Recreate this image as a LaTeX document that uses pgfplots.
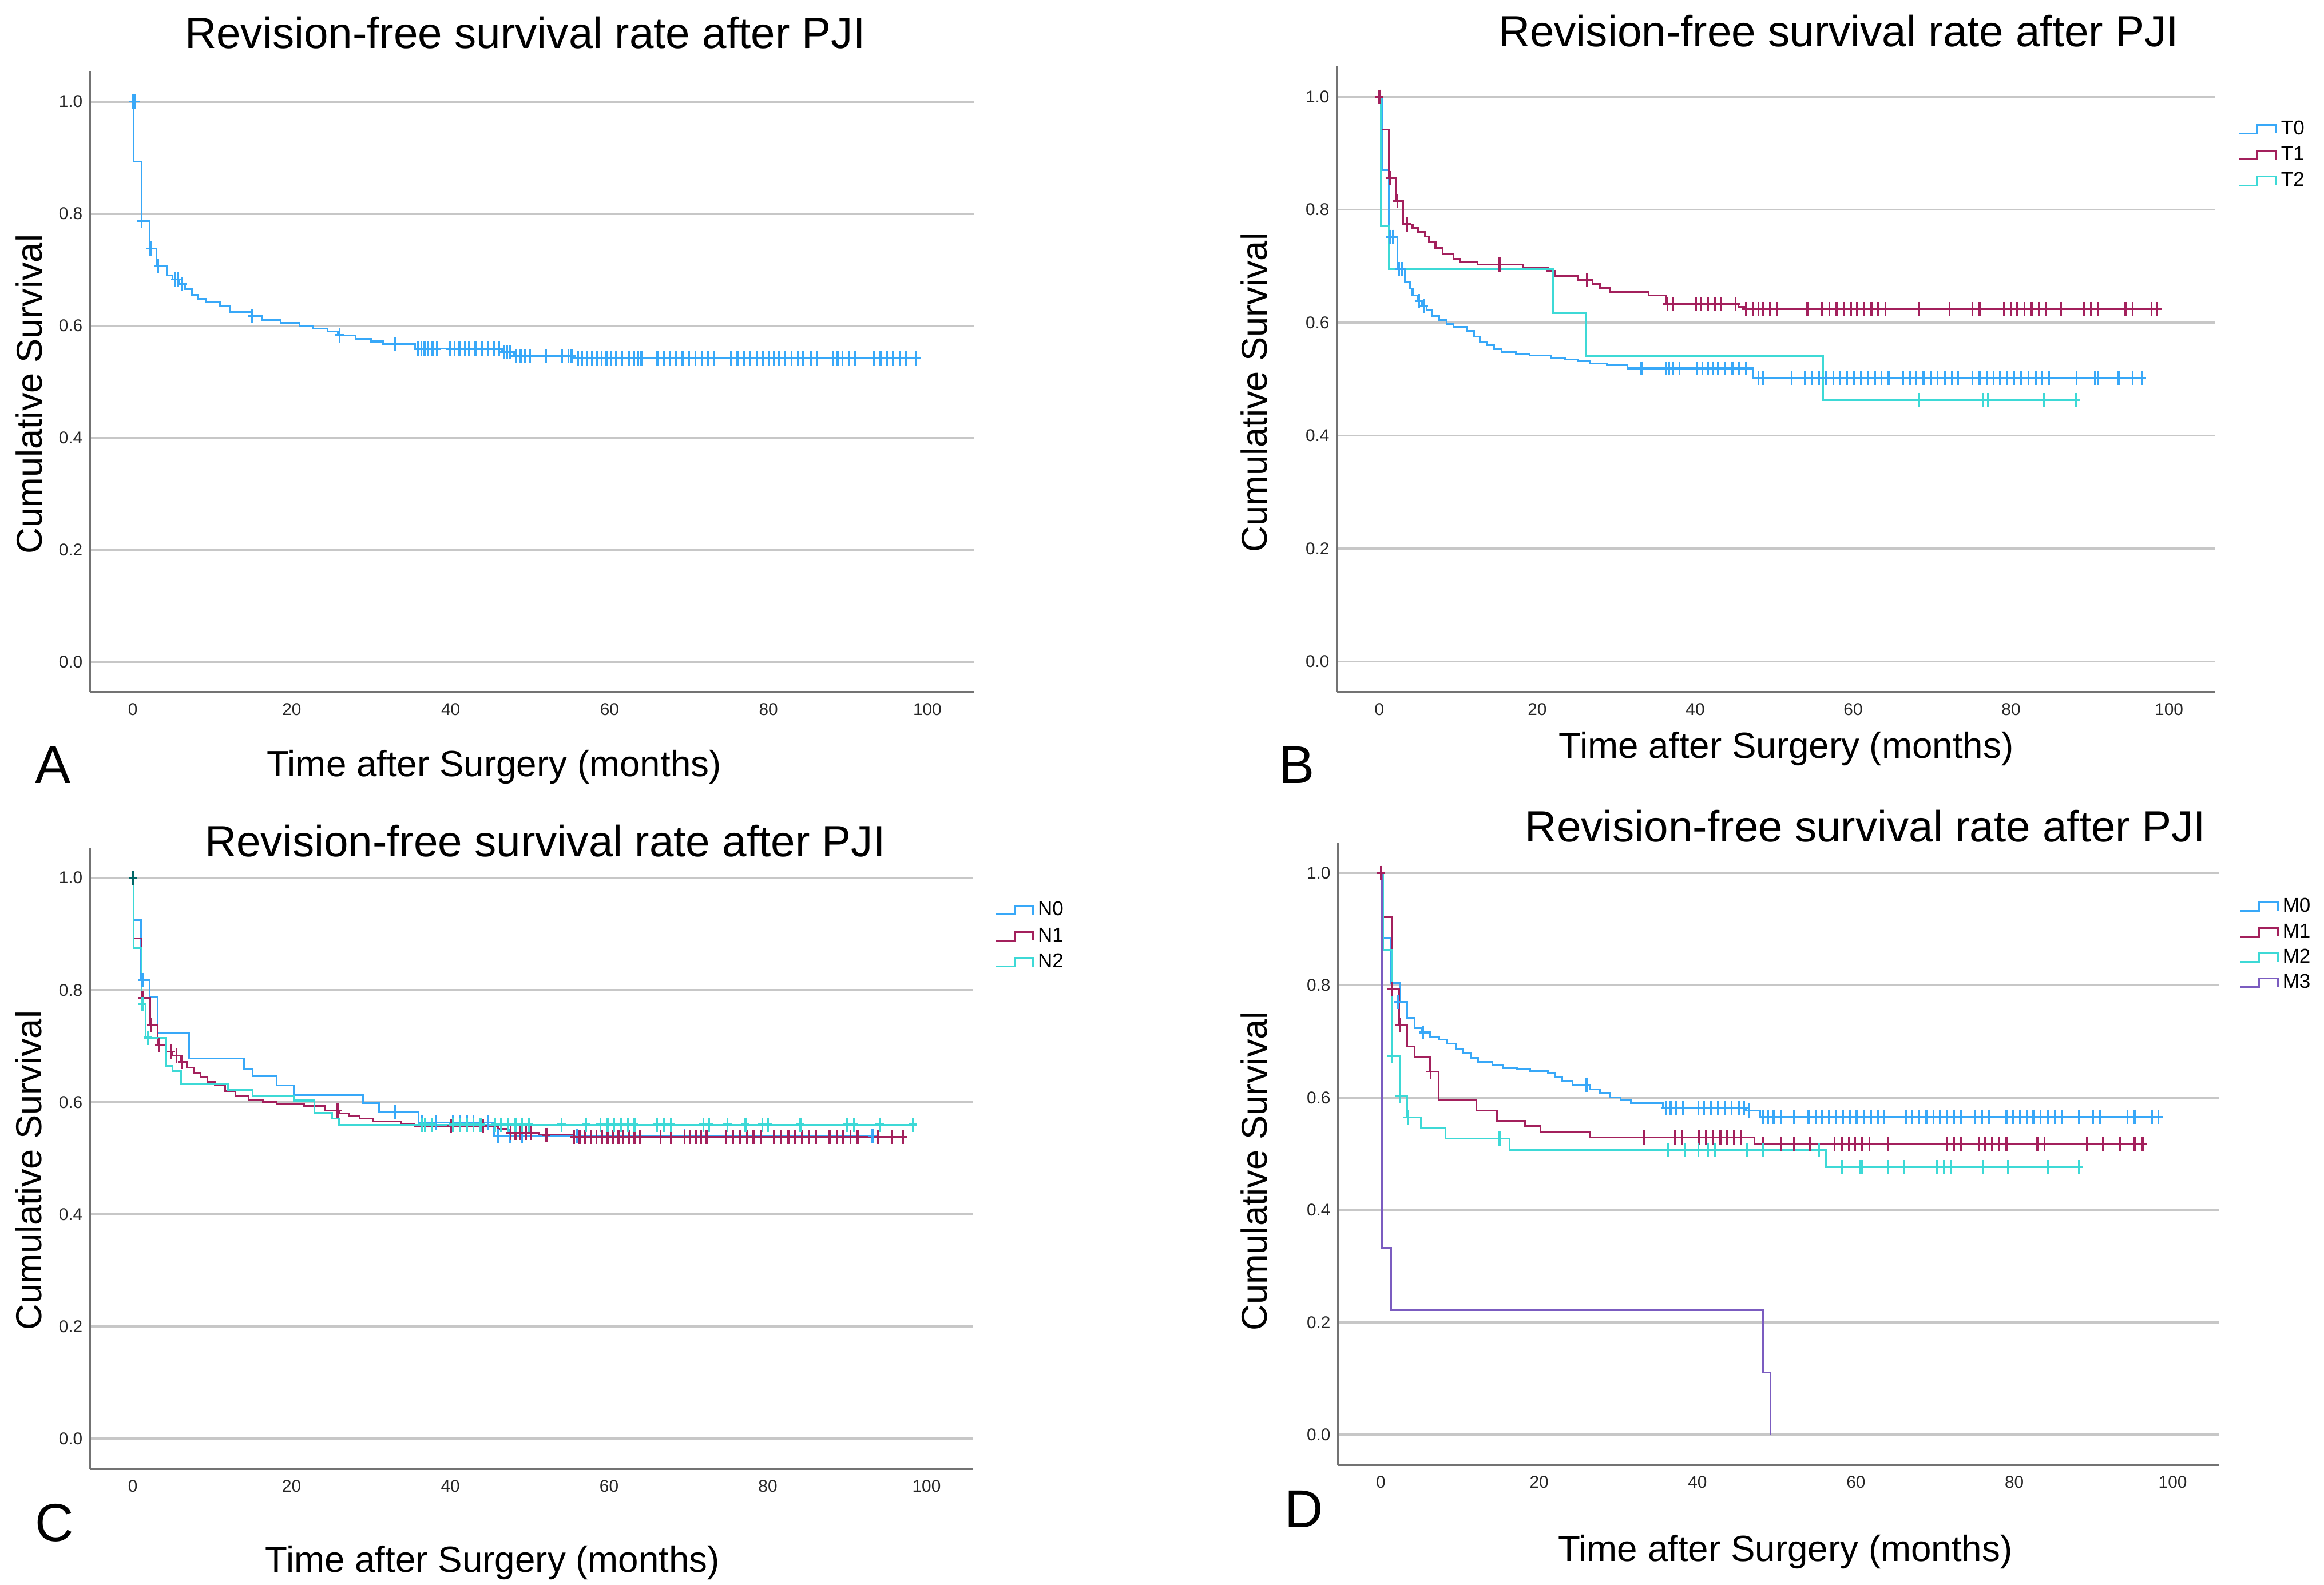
\documentclass[border=0pt]{standalone}
\usepackage{fontspec}
\setmainfont{Liberation Sans}
\usepackage{pgfplots}
\pgfplotsset{compat=1.18}
\definecolor{cA}{HTML}{38A8F8}
\definecolor{cB}{HTML}{A3205C}
\definecolor{cC}{HTML}{3DD9D6}
\definecolor{cD}{HTML}{7B5CC0}
\pgfplotsset{
 km/.style={
  scale only axis,
  xmin=-5.4, xmax=105.8, ymin=-0.054, ymax=1.054,
  axis x line*=bottom, axis y line*=left,
  axis line style={-, draw=black!55, line width=1.5pt},
  xtick={0,20,40,60,80,100}, xticklabels={0,20,40,60,80,100},
  ytick={0,0.2,0.4,0.6,0.8,1.0}, yticklabels={0.0,0.2,0.4,0.6,0.8,1.0},
  major tick length=0pt,
  /pgf/number format/assume math mode=true,
  tick label style={font=\fontsize{11.5}{13}\selectfont, text=black!85},
  xticklabel style={yshift=-4pt},
  yticklabel style={xshift=-1.5pt},
  ymajorgrids, grid style={draw=black!22, line width=1.5pt},
  legend cell align=left,
  legend image code/.code={\draw[##1, line width=1.1pt] (0pt,-2.9pt) -- (12.5pt,-2.9pt) -- (12.5pt,2.9pt) -- (25pt,2.9pt) -- (25pt,-2.9pt);},
 },
 kmleg/.style n args={3}{legend style={draw=none, fill=none, at={(axis description cs:1,1)}, anchor=north west, xshift=#1, yshift=#2,
   font=\fontsize{13.5}{13.5}\selectfont, inner sep=0pt, row sep=#3, column sep=2.8pt,
   nodes={inner sep=0pt, text height=9.7pt, text depth=2.5pt}}},
 kmline/.style={const plot, color=#1, line width=1.2pt},
 kmcens/.style={only marks, mark=+, mark size=2.8pt, color=#1, mark options={line width=1.35pt, yscale=1.7}, forget plot},
}
\begin{document}
\begin{tikzpicture}
\path[use as bounding box] (0pt,0pt) rectangle (1568pt,1069.6pt);
% ---------------- Panel A ----------------
\begin{axis}[km, at={(60.7pt,602.4pt)}, anchor=south west, width=596.1pt, height=419pt]
\addplot[kmline=cA] coordinates {(0,1)(0.1,0.893)(1.1,0.787)(2.1,0.738)(3.0,0.707)(4.3,0.690)(5.0,0.683)(5.8,0.675)(6.6,0.665)(7.4,0.655)(8.2,0.648)(9.2,0.642)(11,0.635)(12.2,0.625)(15,0.617)(16.2,0.610)(18.6,0.605)(21,0.600)(22.6,0.595)(24.5,0.590)(25.8,0.583)(28,0.577)(30,0.572)(31.5,0.567)(35.5,0.559)(46.5,0.553)(48,0.546)(55.5,0.542)(98.6,0.542)};
\addplot[kmcens=cA] coordinates {(0,1)(0.3,1)(1.1,0.787)(2.2,0.738)(3.2,0.707)(5.3,0.683)(5.7,0.683)(6.2,0.675)(15,0.617)(26,0.583)(33,0.567)
(35.9,0.559)(36.3,0.559)(36.7,0.559)(37.1,0.559)(37.7,0.559)(38.3,0.559)(39.9,0.559)(40.5,0.559)(41.1,0.559)(41.8,0.559)(42.3,0.559)(43.1,0.559)(43.9,0.559)(44.7,0.559)(45.5,0.559)(46.1,0.559)
(46.7,0.553)(47.1,0.553)(47.5,0.553)
(48.2,0.546)(48.8,0.546)(49.3,0.546)(50,0.546)(52,0.546)(54,0.546)(54.8,0.546)(55.2,0.546)
(56.0,0.542)(56.5,0.542)(57.2,0.542)(57.8,0.542)(58.4,0.542)(59.0,0.542)(59.6,0.542)(60.2,0.542)(60.8,0.542)(61.6,0.542)(62.4,0.542)(63.1,0.542)(63.6,0.542)(64.0,0.542)
(66.0,0.542)(66.8,0.542)(67.6,0.542)(68.4,0.542)(69.2,0.542)(70.0,0.542)(70.8,0.542)(71.6,0.542)(72.4,0.542)(73.1,0.542)
(75.3,0.542)(76.1,0.542)(76.9,0.542)(77.7,0.542)(78.5,0.542)(79.3,0.542)(80.1,0.542)(80.7,0.542)(81.3,0.542)(82.1,0.542)(82.9,0.542)(83.7,0.542)(84.3,0.542)(85.3,0.542)(86.1,0.542)
(88.1,0.542)(88.7,0.542)(89.3,0.542)(90.1,0.542)(90.9,0.542)
(93.3,0.542)(94.1,0.542)(94.9,0.542)(95.7,0.542)(96.5,0.542)(97.3,0.542)(98.6,0.542)};
\end{axis}
% ---------------- Panel B ----------------
\begin{axis}[km, kmleg={15.6pt}{-36.2pt}{5.3pt}, at={(901.9pt,602.6pt)}, anchor=south west, width=592.4pt, height=422.3pt]
\addplot[kmline=cA] coordinates {(0,1)(0.3,0.87)(1.2,0.752)(2.3,0.695)(3.2,0.672)(3.9,0.66)(4.2,0.648)(4.8,0.638)(5.4,0.630)(6,0.622)(6.7,0.612)(7.6,0.605)(8.5,0.598)(9.4,0.592)(11.1,0.585)(12,0.575)(12.7,0.565)(13.6,0.56)(14.5,0.553)(15.5,0.548)(17.3,0.545)(19,0.542)(21.7,0.538)(23.5,0.535)(25.2,0.532)(26.6,0.528)(28.8,0.525)(31.4,0.519)(47.3,0.502)(96.7,0.502)};
\addlegendentry{T0}
\addplot[kmline=cB] coordinates {(0,1)(0.2,0.942)(1.2,0.856)(2.1,0.815)(3.0,0.774)(4.2,0.768)(4.9,0.760)(5.8,0.752)(6.3,0.743)(7.1,0.732)(8,0.722)(9.4,0.713)(10.2,0.708)(12.4,0.703)(18.2,0.697)(21.3,0.692)(22.2,0.683)(25.2,0.676)(27,0.668)(27.9,0.661)(29.2,0.654)(34.1,0.648)(36.3,0.633)(45.5,0.628)(46.3,0.624)(98.5,0.624)};
\addlegendentry{T1}
\addplot[kmline=cC] coordinates {(0,1)(0.2,0.772)(1.2,0.695)(22,0.617)(26.2,0.541)(56.2,0.463)(88.6,0.463)};
\addlegendentry{T2}
\addplot[kmcens=cA] coordinates {(1.3,0.752)(1.7,0.752)(2.5,0.695)(2.9,0.695)(5.0,0.638)(5.6,0.630)
(33.2,0.519)(36.3,0.519)(36.7,0.519)(37.2,0.519)(38.0,0.519)(40.2,0.519)(40.9,0.519)(41.6,0.519)(42.2,0.519)(42.9,0.519)(43.8,0.519)(44.7,0.519)(45.5,0.519)(46.4,0.519)
(48.0,0.502)(48.6,0.502)(52.2,0.502)(53.9,0.502)(54.8,0.502)(55.7,0.502)(56.6,0.502)(57.5,0.502)(58.3,0.502)(59.2,0.502)(60.1,0.502)(61.0,0.502)(61.9,0.502)(62.8,0.502)(63.6,0.502)(64.5,0.502)
(66.3,0.502)(67.2,0.502)(68.0,0.502)(68.9,0.502)(69.8,0.502)(70.7,0.502)(71.6,0.502)(72.5,0.502)(73.3,0.502)
(75.1,0.502)(76.0,0.502)(76.9,0.502)(77.8,0.502)(78.6,0.502)(79.5,0.502)(80.4,0.502)(81.3,0.502)(82.2,0.502)(83.1,0.502)(83.9,0.502)(84.8,0.502)
(88.3,0.502)(90.6,0.502)(91.0,0.502)(93.6,0.502)(95.4,0.502)(96.6,0.502)};
\addplot[kmcens=cB] coordinates {(0,1)(1.3,0.856)(2.3,0.815)(3.5,0.774)(15.2,0.703)(26.3,0.676)
(36.5,0.633)(37.2,0.633)(40.1,0.633)(40.7,0.633)(41.6,0.633)(42.5,0.633)(43.3,0.633)(45.1,0.633)
(46.4,0.624)(47.3,0.624)(48.0,0.624)(48.6,0.624)(49.5,0.624)(50.4,0.624)(54.2,0.624)(56.1,0.624)(57.0,0.624)(57.9,0.624)(58.8,0.624)(59.7,0.624)(60.5,0.624)(61.4,0.624)(62.3,0.624)(63.2,0.624)(64.1,0.624)
(68.3,0.624)(72.2,0.624)(75.1,0.624)(76.0,0.624)(79.1,0.624)(80.0,0.624)(80.8,0.624)(81.7,0.624)(82.6,0.624)(83.5,0.624)(84.4,0.624)(86.3,0.624)
(89.2,0.624)(90.1,0.624)(91.0,0.624)(94.5,0.624)(95.4,0.624)(97.8,0.624)(98.5,0.624)};
\addplot[kmcens=cC] coordinates {(68.3,0.463)(76.4,0.463)(77.1,0.463)(84.2,0.463)(88.2,0.463)};
\end{axis}
% ---------------- Panel C ----------------
\begin{axis}[km, kmleg={15pt}{-35.9pt}{5.4pt}, at={(60.7pt,78.2pt)}, anchor=south west, width=595.5pt, height=419.4pt]
\addplot[kmline=cA] coordinates {(0,1)(0.1,0.925)(1,0.818)(2.1,0.787)(3.1,0.723)(7.1,0.678)(14,0.66)(15.1,0.646)(18.1,0.630)(20.3,0.613)(29,0.598)(31,0.583)(36,0.564)(45.5,0.540)(94,0.540)};
\addlegendentry{N0}
\addplot[kmline=cB] coordinates {(0,1)(0.1,0.892)(1.1,0.786)(2.2,0.737)(3.1,0.702)(4.2,0.690)(5,0.683)(6.1,0.672)(6.8,0.662)(7.7,0.652)(8.5,0.645)(9.4,0.636)(10.3,0.630)(11.6,0.620)(12.9,0.612)(14.6,0.605)(16.4,0.600)(18.1,0.597)(21.6,0.593)(24.2,0.585)(26,0.580)(27.3,0.575)(28.6,0.571)(30.3,0.566)(33.8,0.561)(35.5,0.558)(46,0.552)(47.3,0.545)(51.2,0.542)(55.6,0.538)(97,0.538)};
\addlegendentry{N1}
\addplot[kmline=cC] coordinates {(0,1)(0.1,0.875)(1.1,0.775)(1.6,0.715)(4.2,0.665)(5,0.655)(6.1,0.633)(12,0.622)(15.1,0.612)(20.3,0.603)(22.9,0.581)(25.1,0.571)(26,0.560)(98.3,0.560)};
\addlegendentry{N2}
\addplot[kmcens=cA] coordinates {(1.2,0.818)(33,0.583)(36.4,0.564)(38.2,0.564)(40.3,0.564)(41.2,0.564)(42.1,0.564)(42.9,0.564)(44.7,0.564)(46.0,0.540)(47.5,0.540)(49.0,0.540)(56,0.540)(69.5,0.540)(93.2,0.540)};
\addplot[kmcens=cB] coordinates {(1.2,0.786)(2.3,0.737)(3.3,0.702)(4.8,0.690)(5.5,0.683)(6.2,0.672)(25.8,0.585)(40.1,0.558)(44.1,0.558)
(47.6,0.545)(48.2,0.545)(48.8,0.545)(49.5,0.545)(50.2,0.545)(52.1,0.542)
(55.6,0.538)(56.3,0.538)(57.0,0.538)(57.7,0.538)(58.4,0.538)(59.1,0.538)(59.8,0.538)(60.5,0.538)(61.2,0.538)(61.8,0.538)(62.5,0.538)(63.2,0.538)(63.9,0.538)
(66.5,0.538)(67.8,0.538)(69.5,0.538)(70.2,0.538)(70.9,0.538)(71.6,0.538)(72.3,0.538)
(74.7,0.538)(75.6,0.538)(76.5,0.538)(77.4,0.538)(78.2,0.538)(79.1,0.538)
(80.8,0.538)(81.7,0.538)(82.6,0.538)(83.4,0.538)(84.3,0.538)(85.2,0.538)(86.1,0.538)
(87.8,0.538)(88.7,0.538)(89.5,0.538)(90.4,0.538)(91.3,0.538)(93.9,0.538)(95.6,0.538)(97.0,0.538)};
\addplot[kmcens=cC] coordinates {(1.2,0.775)(1.9,0.715)
(36.4,0.560)(36.8,0.560)(37.7,0.560)(40.3,0.560)(41.2,0.560)(42.1,0.560)(42.9,0.560)(43.8,0.560)(45.6,0.560)(46.4,0.560)(47.3,0.560)(48.2,0.560)(49.0,0.560)(49.9,0.560)
(54.0,0.560)(57.1,0.560)(58.9,0.560)(59.8,0.560)(60.6,0.560)(61.5,0.560)(62.4,0.560)(63.2,0.560)(66.0,0.560)(66.9,0.560)(67.8,0.560)
(71.9,0.560)(72.6,0.560)(74.9,0.560)(77.2,0.560)(79.3,0.560)(80.0,0.560)(84.1,0.560)(90.0,0.560)(90.9,0.560)(94.1,0.560)(98.3,0.560)};
\addplot[only marks, mark=+, mark size=2.8pt, color=teal!80!black, mark options={line width=1.35pt, yscale=1.7}, forget plot] coordinates {(0,1)};
\end{axis}
% ---------------- Panel D ----------------
\begin{axis}[km, kmleg={14.1pt}{-37.1pt}{4.9pt}, at={(902.7pt,80.9pt)}, anchor=south west, width=594.2pt, height=420.1pt]
\addplot[kmline=cA] coordinates {(0,1)(0.33,0.884)(1.3,0.804)(2.37,0.770)(3.37,0.742)(4.3,0.724)(5.13,0.716)(6.2,0.708)(7.4,0.703)(8.4,0.696)(9.5,0.686)(10.4,0.68)(11.4,0.671)(12.3,0.663)(14.1,0.657)(15.4,0.652)(17.2,0.650)(18.9,0.647)(21.1,0.643)(22,0.637)(22.9,0.630)(24.2,0.623)(26.4,0.615)(27.7,0.608)(29,0.600)(30.3,0.595)(31.6,0.590)(35.6,0.582)(46.1,0.577)(47.9,0.566)(98.5,0.566)};
\addlegendentry{M0}
\addplot[kmline=cB] coordinates {(0,1)(0.33,0.921)(1.36,0.794)(2.32,0.729)(3.33,0.691)(4.3,0.673)(6.2,0.646)(7.3,0.596)(12.1,0.577)(14.7,0.559)(18.2,0.549)(20.2,0.539)(26.4,0.529)(47.2,0.517)(96.5,0.517)};
\addlegendentry{M1}
\addplot[kmline=cC] coordinates {(0,1)(0.33,0.863)(1.36,0.674)(2.37,0.603)(3.3,0.565)(5.1,0.546)(8.2,0.527)(16.3,0.507)(56.2,0.476)(88.2,0.476)};
\addlegendentry{M2}
\addplot[kmline=cD] coordinates {(0,1)(0.2,0.333)(1.3,0.222)(48.3,0.111)(49.2,0)};
\addlegendentry{M3}
\addplot[kmcens=cA] coordinates {(2.2,0.770)(5.37,0.716)(26.0,0.623)
(36.0,0.582)(36.6,0.582)(37.3,0.582)(38.2,0.582)(40.1,0.582)(40.8,0.582)(41.7,0.582)(42.6,0.582)(43.5,0.582)(44.3,0.582)(45.2,0.582)(45.9,0.582)(46.5,0.577)
(48.3,0.566)(48.9,0.566)(49.6,0.566)(50.5,0.566)(52.2,0.566)(54.0,0.566)(54.9,0.566)(55.7,0.566)(56.6,0.566)(57.5,0.566)(58.4,0.566)(59.2,0.566)(60.1,0.566)(61.0,0.566)(61.9,0.566)(62.8,0.566)(63.6,0.566)
(66.3,0.566)(67.1,0.566)(68.0,0.566)(68.9,0.566)(69.8,0.566)(70.6,0.566)(71.5,0.566)(72.4,0.566)(73.3,0.566)
(75.0,0.566)(75.9,0.566)(76.8,0.566)(79.0,0.566)(79.8,0.566)(80.7,0.566)(81.6,0.566)(82.4,0.566)(83.3,0.566)(84.2,0.566)(85.1,0.566)(86.0,0.566)
(88.2,0.566)(89.9,0.566)(90.8,0.566)(94.3,0.566)(95.2,0.566)(97.4,0.566)(98.2,0.566)};
\addplot[kmcens=cB] coordinates {(0,1)(1.4,0.794)(2.4,0.729)(6.3,0.646)
(33.2,0.529)(37.2,0.529)(38.0,0.529)(40.2,0.529)(41.1,0.529)(42.0,0.529)(42.9,0.529)(43.7,0.529)(44.6,0.529)(45.5,0.529)
(48.3,0.517)(50.5,0.517)(52.2,0.517)(54.2,0.517)(57.3,0.517)(58.2,0.517)(59.1,0.517)(59.9,0.517)(60.8,0.517)(61.7,0.517)(64.1,0.517)
(71.5,0.517)(72.4,0.517)(73.3,0.517)(75.5,0.517)(76.3,0.517)(77.2,0.517)(78.1,0.517)(79.0,0.517)(82.9,0.517)(83.8,0.517)
(89.2,0.517)(91.2,0.517)(93.3,0.517)(95.2,0.517)(96.2,0.517)};
\addplot[kmcens=cC] coordinates {(1.4,0.674)(2.4,0.603)(3.4,0.565)(15.0,0.527)
(36.3,0.507)(38.4,0.507)(40.1,0.507)(41.3,0.507)(42.2,0.507)(46.3,0.507)(48.3,0.507)(55.3,0.507)
(58.2,0.476)(60.6,0.476)(60.8,0.476)(64.1,0.476)(66.1,0.476)(70.2,0.476)(71.1,0.476)(72.0,0.476)(76.1,0.476)(79.2,0.476)(84.2,0.476)(88.2,0.476)};
\end{axis}
% ---------------- Texts ----------------
\begin{scope}[every node/.style={inner sep=0pt}]
\node[anchor=base, font=\fontsize{29.5}{30}\selectfont] at (354.3pt,1037.1pt) {Revision-free survival rate after PJI};
\node[anchor=base, font=\fontsize{29.5}{30}\selectfont] at (1240.5pt,1038pt) {Revision-free survival rate after PJI};
\node[anchor=base, font=\fontsize{29.5}{30}\selectfont] at (367.8pt,491.4pt) {Revision-free survival rate after PJI};
\node[anchor=base, font=\fontsize{29.5}{30}\selectfont] at (1258.6pt,501.6pt) {Revision-free survival rate after PJI};
\node[anchor=base, font=\fontsize{24.6}{25}\selectfont] at (333.3pt,545.6pt) {Time after Surgery (months)};
\node[anchor=base, font=\fontsize{24.6}{25}\selectfont] at (1205.2pt,557.9pt) {Time after Surgery (months)};
\node[anchor=base, font=\fontsize{24.6}{25}\selectfont] at (332.3pt,8.8pt) {Time after Surgery (months)};
\node[anchor=base, font=\fontsize{24.6}{25}\selectfont] at (1204.5pt,15.8pt) {Time after Surgery (months)};
\node[anchor=base, rotate=90, font=\fontsize{24.4}{25}\selectfont] at (28.5pt,803.6pt) {Cumulative Survival};
\node[anchor=base, rotate=90, font=\fontsize{24.4}{25}\selectfont] at (855pt,804.8pt) {Cumulative Survival};
\node[anchor=base, rotate=90, font=\fontsize{24.4}{25}\selectfont] at (28pt,279.8pt) {Cumulative Survival};
\node[anchor=base, rotate=90, font=\fontsize{24.4}{25}\selectfont] at (855pt,279.3pt) {Cumulative Survival};
\node[anchor=base west, font=\fontsize{36}{36}\selectfont] at (23.6pt,541.1pt) {A};
\node[anchor=base west, font=\fontsize{36}{36}\selectfont] at (862.8pt,541.1pt) {B};
\node[anchor=base west, font=\fontsize{36}{36}\selectfont] at (23.4pt,29.4pt) {C};
\node[anchor=base west, font=\fontsize{36}{36}\selectfont] at (866.6pt,38.8pt) {D};
\end{scope}
\end{tikzpicture}
\end{document}
